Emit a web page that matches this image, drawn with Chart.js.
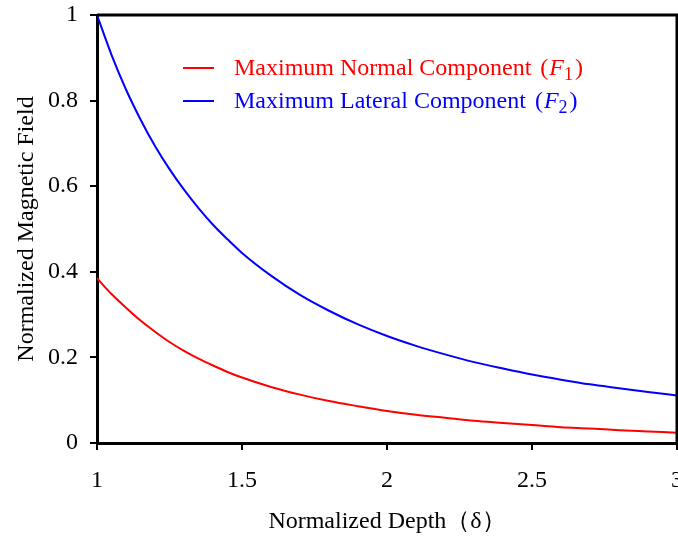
<!DOCTYPE html>
<html>
<head>
<meta charset="utf-8">
<script src="https://cdn.jsdelivr.net/npm/chart.js@4/dist/chart.umd.min.js"></script>
<style>
  html, body { margin: 0; padding: 0; background: #fff; }
  #wrap { position: relative; width: 678px; height: 538px; }
</style>
</head>
<body>
<div id="wrap"><canvas id="field-chart"></canvas></div>
<script>
// normalized depth samples and the two field components read at each depth
const depth = [1.00, 1.05, 1.10, 1.15, 1.20, 1.25, 1.30, 1.35, 1.40, 1.45, 1.50,
               1.60, 1.70, 1.80, 1.90, 2.00, 2.10, 2.20, 2.30, 2.40, 2.50,
               2.60, 2.70, 2.80, 2.90, 3.00];
const normalF1 = [0.385, 0.348, 0.316, 0.286, 0.260, 0.236, 0.215, 0.197, 0.181, 0.166, 0.153,
                  0.131, 0.113, 0.098, 0.086, 0.075, 0.066, 0.059, 0.052, 0.047, 0.042,
                  0.037, 0.034, 0.030, 0.027, 0.024];
const lateralF2 = [1.000, 0.907, 0.826, 0.756, 0.694, 0.640, 0.592, 0.549, 0.510, 0.476, 0.444,
                   0.391, 0.346, 0.309, 0.277, 0.250, 0.227, 0.207, 0.189, 0.174, 0.160,
                   0.148, 0.137, 0.128, 0.119, 0.111];
const xTicks = [1, 1.5, 2, 2.5, 3];
const yTicks = [0, 0.2, 0.4, 0.6, 0.8, 1];

const legendItems = [
  { text: "Maximum Normal Component", sub: "1", color: "#ff0000" },
  { text: "Maximum Lateral Component", sub: "2", color: "#0000ff" },
];

const FONT = "'Liberation Serif', 'Times New Roman', serif";

const toPoints = (ys) => depth.map((x, i) => ({ x, y: ys[i] }));

// box around the plot area
const framePlugin = {
  id: "frame",
  afterDatasetsDraw(chart) {
    const { ctx, chartArea: a } = chart;
    ctx.save();
    ctx.strokeStyle = "#000";
    ctx.lineWidth = 3;
    ctx.beginPath();
    ctx.moveTo(a.left, a.top);
    ctx.lineTo(a.right, a.top);
    ctx.lineTo(a.right, a.bottom);
    ctx.stroke();
    ctx.restore();
  },
};

// legend drawn inside the plot, with italic F and subscript index
const innerLegend = {
  id: "innerLegend",
  afterDraw(chart, args, opts) {
    const { ctx } = chart;
    ctx.save();
    legendItems.forEach((item, i) => {
      const y = opts.y + i * opts.rowGap;
      ctx.strokeStyle = item.color;
      ctx.lineWidth = 2;
      ctx.beginPath();
      ctx.moveTo(opts.x, y);
      ctx.lineTo(opts.x + 31, y);
      ctx.stroke();

      ctx.fillStyle = item.color;
      ctx.textBaseline = "alphabetic";
      let x = opts.x + 51;
      const base = y + 7;
      ctx.font = `24px ${FONT}`;
      ctx.fillText(item.text, x, base);
      x += ctx.measureText(item.text).width + 9;
      ctx.fillText("(", x, base);
      x += ctx.measureText("(").width + 1;
      ctx.font = `italic 24px ${FONT}`;
      ctx.fillText("F", x, base);
      x += ctx.measureText("F").width;
      ctx.font = `18px ${FONT}`;
      ctx.fillText(item.sub, x, base + 5);
      x += ctx.measureText(item.sub).width + 2;
      ctx.font = `24px ${FONT}`;
      ctx.fillText(")", x, base);
    });
    ctx.restore();
  },
};

const noEdgePadding = (scale) => {
  scale.paddingLeft = 0;
  scale.paddingRight = 0;
  scale.paddingTop = 0;
  scale.paddingBottom = 0;
};

const ctx = document.getElementById("field-chart").getContext("2d");

new Chart(ctx, {
  type: "line",
  data: {
    datasets: [
      {
        label: legendItems[0].text,
        data: toPoints(normalF1),
        borderColor: "#ff0000",
        borderWidth: 2,
        pointRadius: 0,
        cubicInterpolationMode: "monotone",
      },
      {
        label: legendItems[1].text,
        data: toPoints(lateralF2),
        borderColor: "#0000ff",
        borderWidth: 2,
        pointRadius: 0,
        cubicInterpolationMode: "monotone",
      },
    ],
  },
  options: {
    responsive: true,
    maintainAspectRatio: false,
    animation: false,
    layout: { autoPadding: false, padding: { left: 0, top: 15, right: 1, bottom: 0 } },
    plugins: {
      legend: { display: false },
      tooltip: { enabled: false },
      innerLegend: { x: 183, y: 68, rowGap: 33 },
    },
    scales: {
      x: {
        type: "linear",
        min: 1,
        max: 3,
        afterFit(scale) { scale.height = 95; noEdgePadding(scale); },
        afterBuildTicks(scale) { scale.ticks = xTicks.map((v) => ({ value: v })); },
        border: { display: true, color: "#000", width: 3 },
        grid: { drawOnChartArea: false, drawTicks: true, tickLength: 7, color: "#000", lineWidth: 2 },
        ticks: {
          color: "#000",
          padding: 16,
          maxRotation: 0,
          font: { family: FONT, size: 24 },
          callback: (v) => String(v),
        },
        title: {
          display: true,
          text: "Normalized Depth（δ）",
          color: "#000",
          font: { family: FONT, size: 24 },
          padding: { top: 0, bottom: 2 },
        },
      },
      y: {
        min: 0,
        max: 1,
        afterFit(scale) { scale.width = 97; noEdgePadding(scale); },
        afterBuildTicks(scale) { scale.ticks = yTicks.map((v) => ({ value: v })); },
        border: { display: true, color: "#000", width: 3 },
        grid: { drawOnChartArea: false, drawTicks: true, tickLength: 7, color: "#000", lineWidth: 2 },
        ticks: {
          color: "#000",
          padding: 12,
          font: { family: FONT, size: 24 },
          callback: (v) => String(v),
        },
        title: {
          display: true,
          text: "Normalized Magnetic Field",
          color: "#000",
          font: { family: FONT, size: 24 },
          padding: { top: 12, bottom: 0 },
        },
      },
    },
  },
  plugins: [framePlugin, innerLegend],
});
</script>
</body>
</html>
